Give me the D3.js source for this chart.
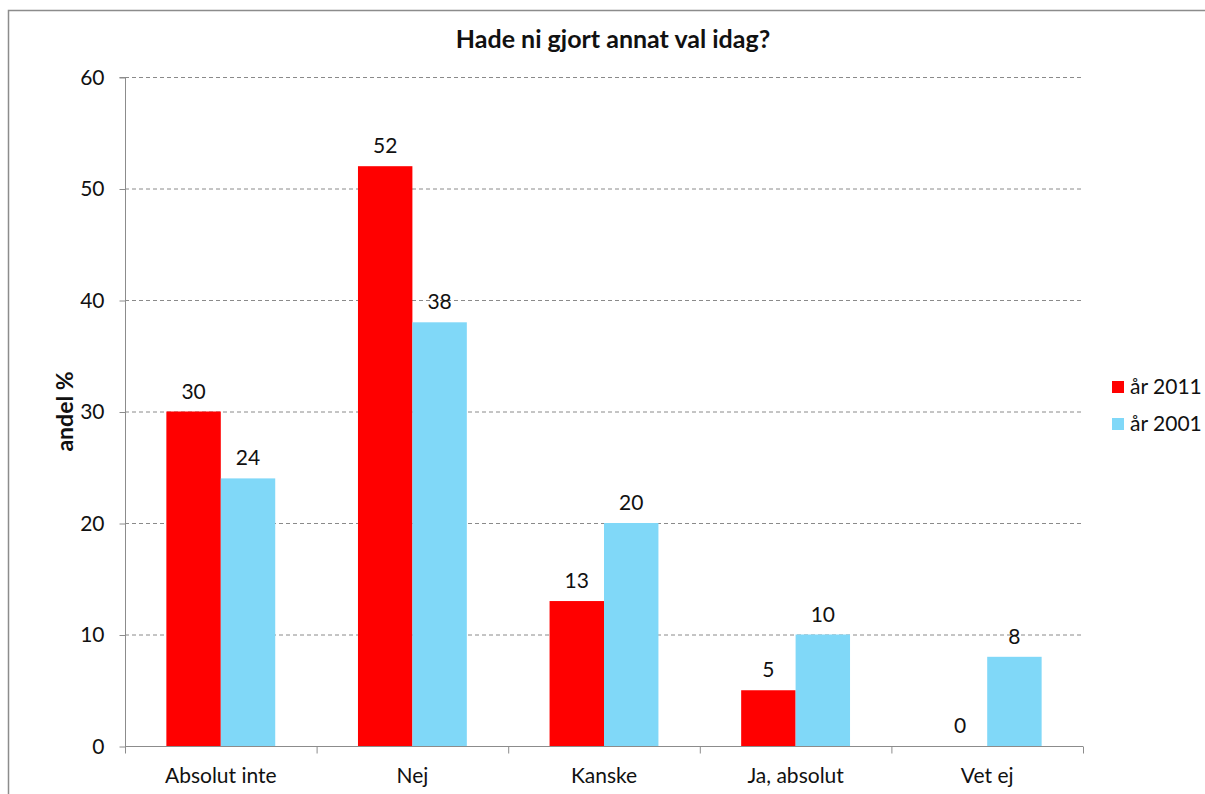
<!DOCTYPE html>
<html>
<head>
<meta charset="utf-8">
<script src="https://cdn.jsdelivr.net/npm/d3@7"></script>
<style>
  body { margin: 0; background: #fff; }
  svg text { font-family: Lato, "Open Sans", "Liberation Sans", sans-serif; fill: #111; }
</style>
</head>
<body>
<svg id="chart" width="1205" height="794"></svg>
<script>
// Survey answers: "Would you have chosen differently today?"
const categories = ["Absolut inte", "Nej", "Kanske", "Ja, absolut", "Vet ej"];
const series = ["år 2011", "år 2001"];
const values2011 = [30, 52, 13, 5, 0];
const values2001 = [24, 38, 20, 10, 8];
const yTicks = [0, 10, 20, 30, 40, 50, 60];
const colors = ["#ff0000", "#80d8f8"];

const fontSize = 21;
const svg = d3.select("#chart");

// outer chart frame
svg.append("rect")
  .attr("x", 8.5).attr("y", 10.5)
  .attr("width", 1210).attr("height", 800)
  .attr("fill", "none").attr("stroke", "#8c8c8c").attr("stroke-width", 1.5);

const plotLeft = 125, plotRight = 1083, plotTop = 77, plotBottom = 746;

const x = d3.scaleBand().domain(categories).range([plotLeft, plotRight]).paddingInner(0).paddingOuter(0);
const y = d3.scaleLinear().domain([0, 60]).range([plotBottom, plotTop]);
const xSub = d3.scaleBand().domain(series).range([0, x.bandwidth()]).paddingInner(0).paddingOuter(0.76);

// gridlines
svg.append("g").selectAll("line")
  .data(yTicks.filter(d => d > 0))
  .join("line")
  .attr("x1", plotLeft).attr("x2", plotRight)
  .attr("y1", d => y(d) + 0.5).attr("y2", d => y(d) + 0.5)
  .attr("stroke", "#8a8a8a").attr("stroke-dasharray", "4,3").attr("stroke-width", 1);

// bars
const data = categories.map((c, i) => ({ cat: c, vals: [values2011[i], values2001[i]] }));
const groups = svg.append("g").selectAll("g")
  .data(data).join("g")
  .attr("transform", d => `translate(${x(d.cat)},0)`);

groups.selectAll("rect")
  .data(d => d.vals.map((v, j) => ({ s: series[j], v, j })))
  .join("rect")
  .attr("x", d => xSub(d.s))
  .attr("width", xSub.bandwidth())
  .attr("y", d => y(d.v))
  .attr("height", d => y(0) - y(d.v))
  .attr("fill", d => colors[d.j]);

// value labels
groups.selectAll("text")
  .data(d => d.vals.map((v, j) => ({ s: series[j], v, j })))
  .join("text")
  .attr("x", d => xSub(d.s) + xSub.bandwidth() / 2)
  .attr("y", d => y(d.v) - 13)
  .attr("text-anchor", "middle")
  .attr("font-size", fontSize)
  .text(d => d.v);

// y axis
const yAxis = svg.append("g")
  .attr("transform", `translate(${plotLeft + 0.5},0.5)`)
  .call(d3.axisLeft(y).tickValues(yTicks).tickSize(6).tickPadding(15).tickFormat(d3.format("d")));
yAxis.select(".domain").attr("stroke", "#8c8c8c").attr("d", `M-6,${plotTop}H0V${plotBottom}`);
yAxis.selectAll(".tick line").attr("stroke", "#8c8c8c");
yAxis.selectAll(".tick text").attr("font-size", fontSize).style("font-family", null);

// x axis
const xAxis = svg.append("g")
  .attr("transform", `translate(0,${plotBottom + 0.5})`)
  .call(d3.axisBottom(x).tickSize(0).tickPadding(22));
xAxis.select(".domain").attr("stroke", "#8c8c8c").attr("d", `M${plotLeft},0H${plotRight}`);
xAxis.selectAll(".tick text").attr("font-size", fontSize).style("font-family", null);
// boundary ticks between categories
xAxis.append("g").selectAll("line")
  .data(d3.range(categories.length + 1))
  .join("line")
  .attr("x1", i => plotLeft + i * x.step() + 0.5).attr("x2", i => plotLeft + i * x.step() + 0.5)
  .attr("y1", 0).attr("y2", 7)
  .attr("stroke", "#8c8c8c");

// title
svg.append("text")
  .attr("x", 613).attr("y", 48)
  .attr("text-anchor", "middle")
  .attr("font-size", 25).attr("font-weight", "bold")
  .text("Hade ni gjort annat val idag?");

// y axis title
svg.append("text")
  .attr("transform", `translate(73,${(plotTop + plotBottom) / 2}) rotate(-90)`)
  .attr("text-anchor", "middle")
  .attr("font-size", 23).attr("font-weight", "bold")
  .text("andel %");

// legend
const legend = svg.append("g").attr("transform", "translate(1112,381)");
const items = legend.selectAll("g").data(series).join("g")
  .attr("transform", (d, i) => `translate(0,${i * 37})`);
items.append("rect").attr("width", 12).attr("height", 12).attr("fill", (d, i) => colors[i]);
items.append("text").attr("x", 18).attr("y", 13).attr("font-size", fontSize).text(d => d);
</script>
</body>
</html>
